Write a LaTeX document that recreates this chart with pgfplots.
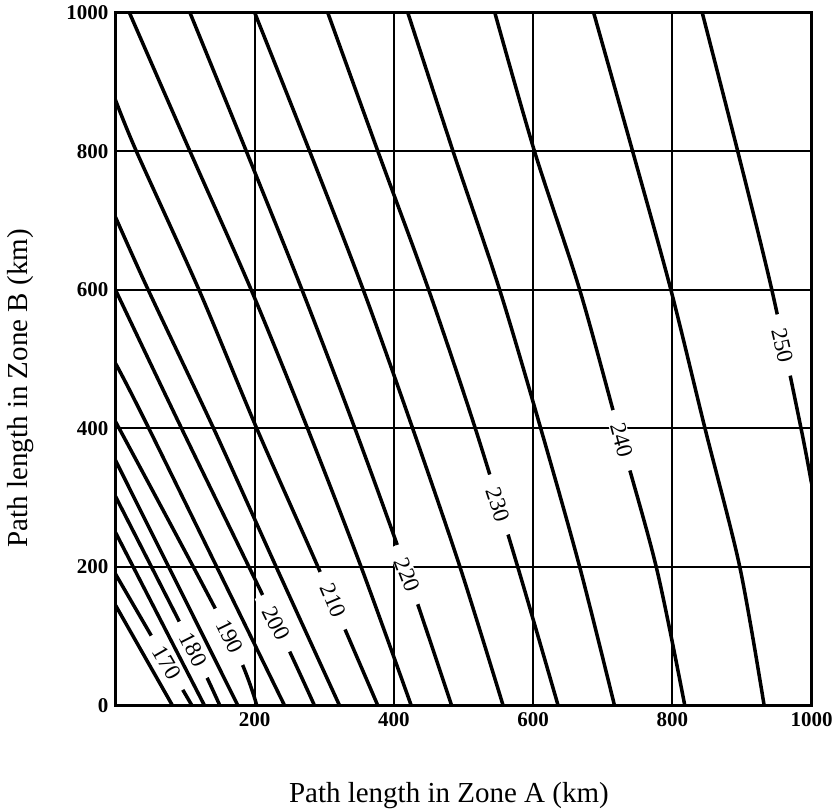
\documentclass[border=0pt]{standalone}
\usepackage{fontspec}
\setmainfont{Liberation Serif}
\usepackage{pgfplots}
\pgfplotsset{compat=1.18}
\tikzset{ln/.style={black, solid, line width=1.75pt, line join=round, no markers, smooth, tension=0.5},
  lbl/.style={fill=white, inner xsep=7pt, inner ysep=0.5pt, font=\fontsize{11.5}{12}\selectfont}}
\begin{document}
\begin{tikzpicture}
\begin{axis}[
  scale only axis,
  width=348pt, height=346.5pt,
  xmin=0, xmax=1000, ymin=0, ymax=1000,
  xtick={200,400,600,800,1000},
  ytick={0,200,400,600,800,1000},
  grid=major,
  grid style={black, line width=1pt},
  axis line style={black, line width=1.3pt},
  major tick length=0pt,
  tick label style={font=\fontsize{10.5}{12}\selectfont\bfseries},
  /pgf/number format/assume math mode=true,
  /pgf/number format/1000 sep={},
  xlabel={Path length in Zone A (km)},
  ylabel={Path length in Zone B (km)},
  label style={font=\fontsize{14.5}{16}\selectfont},
  xlabel style={at={(axis description cs:0.479,-0.129)}, anchor=center},
  ylabel style={at={(axis description cs:-0.137,0.458)}, anchor=center},
  clip=true,
]
% 165
\addplot[ln] coordinates {(0,145) (82,0)};
% 170
\addplot[ln] coordinates {(0,190) (74,62) (110,0)};
% 175
\addplot[ln] coordinates {(0,250) (128,0)};
% 180
\addplot[ln] coordinates {(0,302) (112,81) (150,0)};
% 185
\addplot[ln] coordinates {(0,354) (176,0)};
% 190
\addplot[ln] coordinates {(0,410) (164,100) (203,0)};
% 195
\addplot[ln] coordinates {(0,494) (48,400) (243,0)};
% 200
\addplot[ln] coordinates {(0,600) (95,400) (231,119) (286,0)};
% 205
\addplot[ln] coordinates {(0,705) (47,600) (141,400) (231,200) (322,0)};
% 210
\addplot[ln] coordinates {(0,874) (30,800) (120,600) (203,400) (291,200) (377,0)};
% 215
\addplot[ln] coordinates {(20,1000) (107,800) (195,600) (276,400) (353,200) (425,0)};
% 220
\addplot[ln] coordinates {(107,1000) (188,800) (268,600) (344,400) (416,200) (483,0)};
% 225
\addplot[ln] coordinates {(200,1000) (279,800) (356,600) (427,400) (495,200) (557,0)};
% 230
\addplot[ln] coordinates {(305,1000) (377,800) (450,600) (517,400) (578,200) (636,0)};
% 235
\addplot[ln] coordinates {(420,1000) (485,800) (552,600) (611,400) (667,200) (717,0)};
% 240
\addplot[ln] coordinates {(545,1000) (602,800) (667,600) (722,400) (777,200) (818,0)};
% 245
\addplot[ln] coordinates {(687,1000) (743,800) (798,600) (847,400) (897,200) (932,0)};
% 250
\addplot[ln] coordinates {(843,1000) (894,800) (943,600) (985,400) (1000,321)};

\node[lbl, rotate=-60] at (axis cs:74,62) {170};
\node[lbl, rotate=-63] at (axis cs:112,81) {180};
\node[lbl, rotate=-64] at (axis cs:164,100) {190};
\node[lbl, rotate=-64] at (axis cs:231,119) {200};
\node[lbl, rotate=-67] at (axis cs:313,152) {210};
\node[lbl, rotate=-69] at (axis cs:419,189) {220};
\node[lbl, rotate=-72] at (axis cs:550,290) {230};
\node[lbl, rotate=-75] at (axis cs:727,383) {240};
\node[lbl, rotate=-77] at (axis cs:958,520) {250};

\coordinate (bl) at (rel axis cs:0,0);
\coordinate (tr) at (rel axis cs:1,1);
\end{axis}
\pgfresetboundingbox
\path[use as bounding box] ([shift={(-57.75pt,-51.15pt)}]bl) rectangle ([shift={(11.25pt,6.35pt)}]tr);
\end{tikzpicture}
\end{document}
